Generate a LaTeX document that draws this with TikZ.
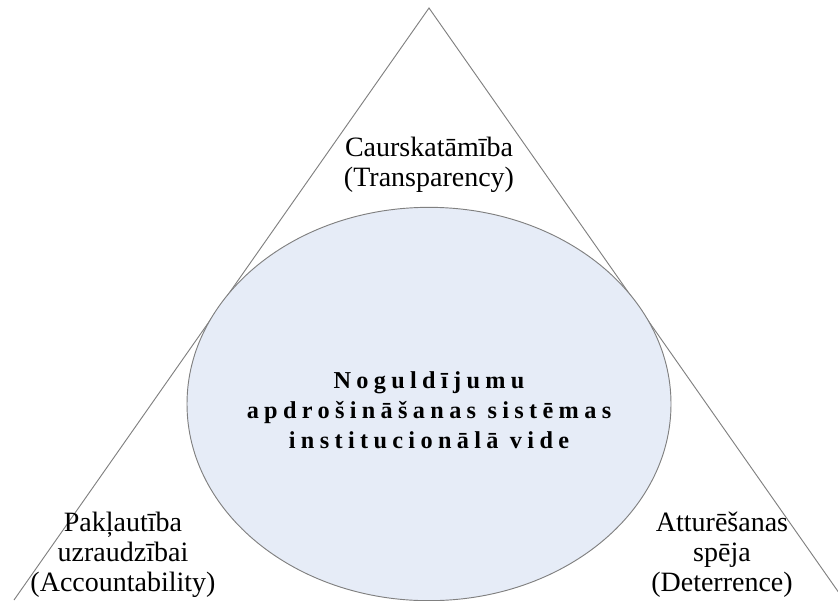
\documentclass[tikz,border=0pt]{standalone}
\usepackage{fontspec}
\setmainfont{Liberation Serif}
\newfontfamily\corefont[LetterSpace=22]{Liberation Serif}
\usetikzlibrary{shapes.geometric}
\begin{document}
\begin{tikzpicture}[x=0.75pt,y=-0.75pt,
  outline/.style={draw=black!50,line width=0.7pt},
  label/.style={align=center,font=\fontsize{21}{22.5}\selectfont,inner sep=0pt},
  core/.style={align=center,font=\corefont\bfseries\fontsize{18.2}{22.5}\selectfont,inner sep=0pt}]
  \useasboundingbox (0,0) rectangle (838,600);
  \begin{scope}
    \clip (0,0) rectangle (838,600);
    % outer triangle
    \coordinate (apex) at (429,8);
    \coordinate (bl) at (14,600);
    \coordinate (br) at (844,600);
    \draw[outline] (bl) -- (apex) -- (br);
    % central ellipse
    \node[outline,fill={rgb,255:red,230;green,236;blue,247},ellipse,
          minimum width=363pt,minimum height=295pt,inner sep=0pt] (env) at (429,404) {};
  \end{scope}
  \node[core] (envtext) at (429,410) {Noguldījumu\\apdrošināšanas sistēmas\\institucionālā vide};
  \node[label] (top) at (429,165) {Caurskatāmība\\(Transparency)};
  \node[label] (left) at (123,555) {Pakļautība\\uzraudzībai\\(Accountability)};
  \node[label] (right) at (722,555) {Atturēšanas\\spēja\\(Deterrence)};
\end{tikzpicture}
\end{document}
